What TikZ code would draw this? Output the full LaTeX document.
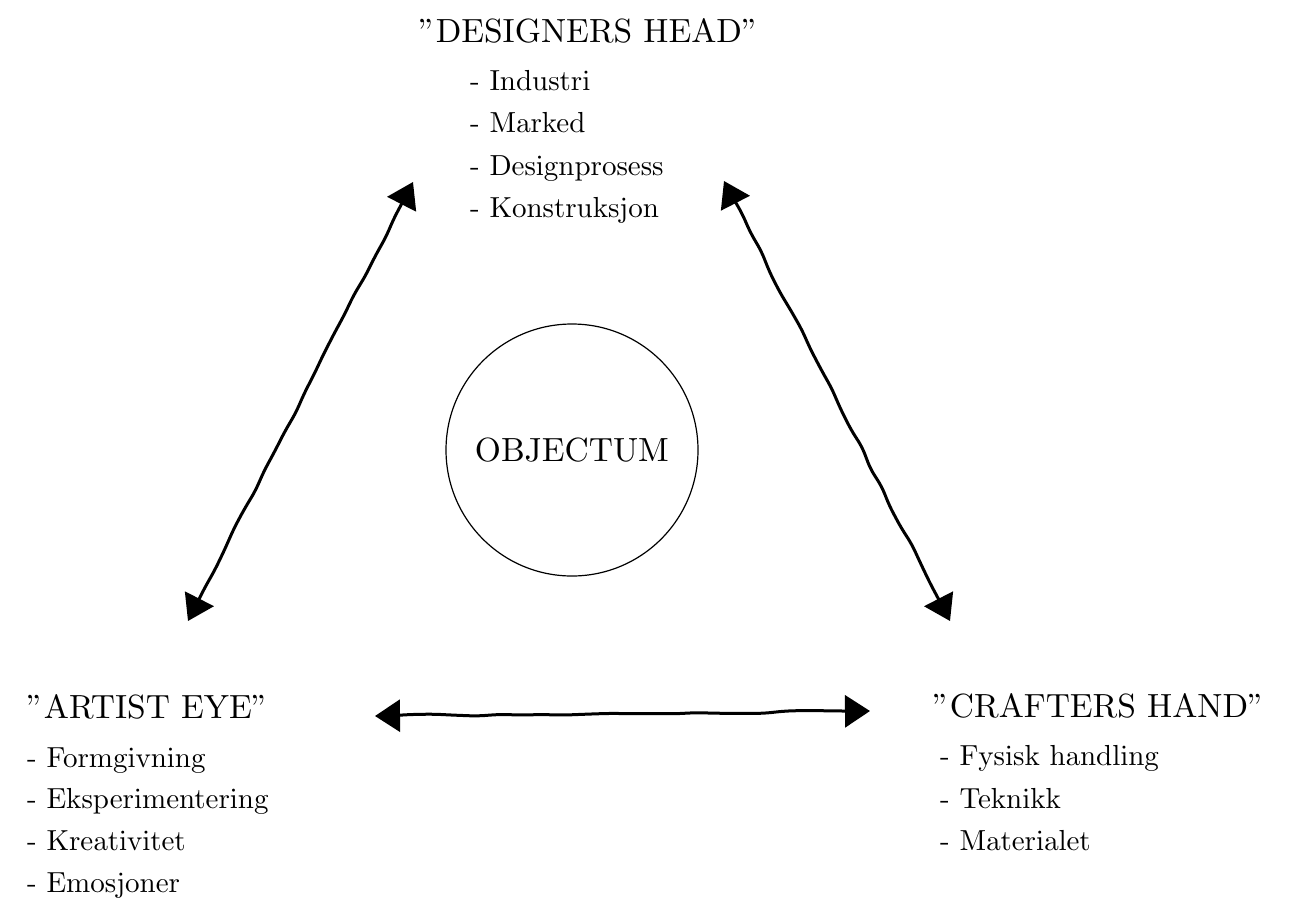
\documentclass[tikz,border=0pt]{standalone}
\usetikzlibrary{arrows.meta,decorations.pathmorphing}
% text faces: the 10pt design of Computer Modern, scaled up
\font\headfont=cmr10 at 33.5pt
\font\listfont=cmr10 at 29pt
\begin{document}
\begin{tikzpicture}[x=1pt,y=-1pt,
  title/.style={font=\headfont, inner sep=0pt},
  item/.style={font=\listfont, inner sep=0pt, anchor=base west},
  link/.style={line width=3pt, line cap=round,
    {Triangle[length=25pt,width=32pt]}-{Triangle[length=25pt,width=32pt]},
    decorate, decoration={random steps, segment length=22pt, amplitude=1.3pt,
      pre length=14pt, post length=14pt}, rounded corners=7pt}]
\pgfmathsetseed{7}
\useasboundingbox (0,0) rectangle (1290,900);

% the object in the middle
\node[circle, draw, line width=1.2pt, minimum size=252pt, inner sep=0pt,
      font=\headfont] (obj) at (572,450) {OBJECTUM};

% designer's head
\node[title, anchor=base] (dh) at (589,42) {''DESIGNERS HEAD''};
\node[item] (dh1) at (470,90)  {- Industri};
\node[item] (dh2) at (470,132) {- Marked};
\node[item] (dh3) at (470,175) {- Designprosess};
\node[item] (dh4) at (470,217) {- Konstruksjon};

% artist's eye
\node[title, anchor=base west] (ae) at (27,718) {''ARTIST EYE''};
\node[item] (ae1) at (27,767) {- Formgivning};
\node[item] (ae2) at (27,808) {- Eksperimentering};
\node[item] (ae3) at (27,850) {- Kreativitet};
\node[item] (ae4) at (27,892) {- Emosjoner};

% crafter's hand
\node[title, anchor=base west] (ch) at (933,717) {''CRAFTERS HAND''};
\node[item] (ch1) at (940,765) {- Fysisk handling};
\node[item] (ch2) at (940,808) {- Teknikk};
\node[item] (ch3) at (940,850) {- Materialet};

% arrow end points
\coordinate (dhL) at (413,182);
\coordinate (dhR) at (724,181);
\coordinate (aeT) at (188,621);
\coordinate (chT) at (950,621);
\coordinate (aeR) at (375,716);
\coordinate (chL) at (870,711);

% connections between the three roles
\draw[link] (aeT) -- (dhL);
\draw[link] (dhR) -- (chT);
\draw[link] (aeR) -- (chL);
\end{tikzpicture}
\end{document}
